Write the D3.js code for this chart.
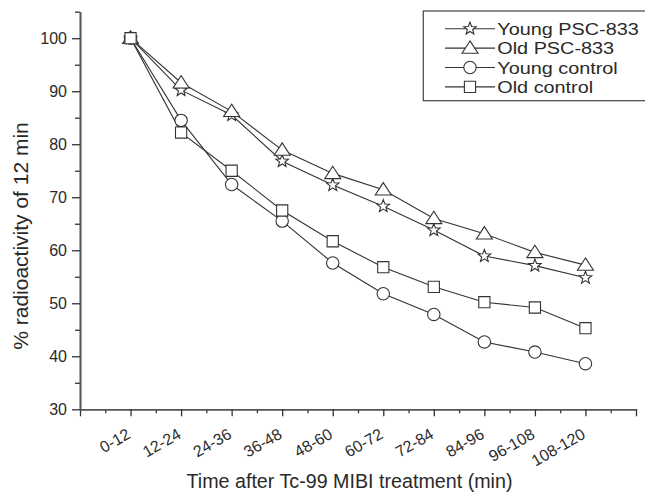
<!DOCTYPE html>
<html><head><meta charset="utf-8">
<script src="https://cdn.jsdelivr.net/npm/d3@7"></script>
<style>
html,body{margin:0;padding:0;background:#fff;}
svg{display:block;font-family:"Liberation Sans",Arial,Helvetica,sans-serif;}
</style></head>
<body>
<svg id="c" width="645" height="492"></svg>
<script>
const categories = ["0-12","12-24","24-36","36-48","48-60","60-72","72-84","84-96","96-108","108-120"];
const youngPSC = [100, 90.2, 85.5, 76.8, 72.3, 68.3, 63.8, 58.9, 57.1, 54.8];
const oldPSC   = [100, 91.6, 86.2, 78.9, 74.5, 71.4, 66.0, 63.1, 59.6, 57.2];
const youngCtl = [100, 84.5, 72.4, 65.5, 57.6, 51.8, 47.9, 42.7, 40.8, 38.6];
const oldCtl   = [100, 82.2, 75.0, 67.5, 61.7, 56.8, 53.1, 50.2, 49.2, 45.3];
const seriesNames = ["Young PSC-833","Old PSC-833","Young control","Old control"];
const yTickValues = [30,40,50,60,70,80,90,100];

const svg = d3.select("#c");
const x = d3.scaleLinear().domain([0, 11]).range([80, 636]);
const y = d3.scaleLinear().domain([30, 105]).range([409.3, 11.7]);
const ink = "#2a2a2a";

function starPath(r, ri) {
  const pts = [];
  for (let i = 0; i < 10; i++) {
    const a = -Math.PI/2 + i*Math.PI/5;
    const rr = i % 2 === 0 ? r : ri;
    pts.push([rr*Math.cos(a), rr*Math.sin(a)]);
  }
  return "M" + pts.map(p => p[0].toFixed(2)+","+p[1].toFixed(2)).join("L") + "Z";
}
const shapes = {
  star: starPath(6.6, 2.8),
  tri: "M0,-7.2L8,5.2L-8,5.2Z",
  circ: d3.symbol(d3.symbolCircle, Math.PI*6.2*6.2)(),
  sq: "M-5.6,-5.6H5.6V5.6H-5.6Z"
};
const series = [
  {name: seriesNames[0], vals: youngPSC, shape: "star"},
  {name: seriesNames[1], vals: oldPSC, shape: "tri"},
  {name: seriesNames[2], vals: youngCtl, shape: "circ"},
  {name: seriesNames[3], vals: oldCtl, shape: "sq"}
];

// axes
const xMajor = d3.range(0, 12);
const xMinor = d3.range(0.5, 11, 1);
const gx = svg.append("g").attr("transform", `translate(0,${y(30)})`);
gx.call(d3.axisBottom(x).tickValues(xMinor).tickSize(4).tickSizeOuter(0).tickFormat(""));
gx.call(g => g.append("g").call(d3.axisBottom(x).tickValues(xMajor).tickSize(7).tickSizeOuter(0).tickFormat("")));
gx.selectAll("path.domain").attr("stroke", "#555").attr("stroke-width", 1.6);
gx.selectAll(".tick line").attr("stroke", "#333").attr("stroke-width", 1.3);

const gy = svg.append("g").attr("transform", `translate(${x(0)},0)`);
gy.call(d3.axisLeft(y).tickValues(d3.range(35, 106, 10)).tickSize(5).tickSizeOuter(0).tickFormat(""));
gy.call(g => g.append("g").call(d3.axisLeft(y).tickValues(yTickValues).tickSize(8).tickSizeOuter(0).tickFormat(d3.format("d"))));
gy.selectAll("path.domain").attr("stroke", "#555").attr("stroke-width", 1.6);
gy.selectAll(".tick line").attr("stroke", "#333").attr("stroke-width", 1.3);
gy.selectAll(".tick text").attr("font-size", 16).attr("fill", ink).attr("x", -13)
  .attr("font-family", '"Liberation Sans",Arial,sans-serif');

// x category labels
svg.append("g").selectAll("text").data(categories).join("text")
  .attr("transform", (d,i) => `translate(${x(i+1)+1},${y(30)+28}) rotate(-30)`)
  .attr("text-anchor", "end")
  .attr("font-size", 16).attr("fill", ink)
  .text(d => d);

// axis titles
svg.append("text").attr("x", 349.5).attr("y", 488).attr("text-anchor", "middle")
  .attr("font-size", 19.7).attr("fill", ink).text("Time after Tc-99 MIBI treatment (min)");
svg.append("text").attr("transform", `translate(27.6,236) rotate(-90)`).attr("text-anchor", "middle")
  .attr("font-size", 21).attr("fill", ink).text("% radioactivity of 12 min");

// lines
const line = d3.line().x((d,i) => x(i+1)).y(d => y(d));
series.forEach(s => {
  svg.append("path").attr("d", line(s.vals)).attr("fill", "none")
    .attr("stroke", "#333").attr("stroke-width", 1.1);
});
series.forEach(s => {
  svg.append("g").selectAll("path").data(s.vals).join("path")
    .attr("d", shapes[s.shape])
    .attr("transform", (d,i) => `translate(${x(i+1)},${y(d)})`)
    .attr("fill", "#fff").attr("stroke", "#333").attr("stroke-width", 1.1);
});

// legend
const lg = svg.append("g");
lg.append("rect").attr("x", 423.3).attr("y", 11).attr("width", 240).attr("height", 89.7)
  .attr("fill", "#fff").attr("stroke", "#444").attr("stroke-width", 1.2);
series.forEach((s, i) => {
  const base = 35 + i*19.4;
  const cy = base - 6.3;
  lg.append("line").attr("x1", 445).attr("x2", 495).attr("y1", cy).attr("y2", cy)
    .attr("stroke", "#333").attr("stroke-width", 1.1);
  lg.append("path").attr("d", shapes[s.shape]).attr("transform", `translate(470,${cy})`)
    .attr("fill", "#fff").attr("stroke", "#333").attr("stroke-width", 1.1);
  lg.append("text").attr("transform", `translate(497.3,${base}) scale(1.14,1)`)
    .attr("font-size", 17.4).attr("fill", ink).text(s.name);
});
</script>
</body></html>
